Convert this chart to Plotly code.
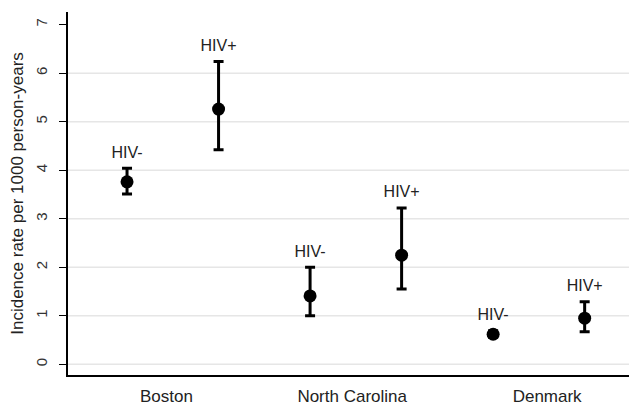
import plotly.graph_objects as go

# Data
groups = ["Boston", "Boston", "North Carolina", "North Carolina", "Denmark", "Denmark"]
status = ["HIV-", "HIV+", "HIV-", "HIV+", "HIV-", "HIV+"]
x_pos = [0, 1, 2, 3, 4, 5]
rate = [3.76, 5.26, 1.41, 2.25, 0.62, 0.95]
ci_low = [3.51, 4.42, 1.00, 1.55, 0.56, 0.67]
ci_high = [4.04, 6.24, 2.00, 3.22, 0.69, 1.29]
cat_labels = ["Boston", "North Carolina", "Denmark"]
cat_pos = [0.43, 2.46, 4.59]
y_ticks = [0, 1, 2, 3, 4, 5, 6, 7]
grid_vals = [0, 1, 2, 3, 4, 5, 6]

FONT = "Liberation Sans, Arial, Helvetica, sans-serif"

fig = go.Figure()

fig.add_trace(go.Scatter(
    x=x_pos, y=rate, mode="markers",
    marker=dict(color="black", size=13),
    error_y=dict(type="data", symmetric=False,
                 array=[h - r for h, r in zip(ci_high, rate)],
                 arrayminus=[r - l for r, l in zip(rate, ci_low)],
                 color="black", thickness=3, width=5),
    showlegend=False, hoverinfo="skip",
))

fig.add_trace(go.Scatter(
    x=x_pos, y=ci_high, mode="markers+text", text=status,
    textposition="top center",
    marker=dict(size=9, opacity=0),
    textfont=dict(family=FONT, size=16, color="#222222"),
    showlegend=False, hoverinfo="skip",
))

for g in grid_vals:
    fig.add_shape(type="line", xref="paper", yref="y", x0=0, x1=1, y0=g, y1=g,
                  line=dict(color="#e6e6e6", width=1.5), layer="below")

fig.update_layout(
    width=629, height=399,
    margin=dict(l=60, r=2, t=4, b=32),
    paper_bgcolor="white", plot_bgcolor="white",
    font=dict(family=FONT, color="#222222"),
)

fig.update_xaxes(
    range=[-0.645, 5.55], tickmode="array", tickvals=cat_pos, ticktext=cat_labels,
    showgrid=False, zeroline=False, showline=True, linecolor="black", linewidth=1.5,
    ticks="", ticklabelstandoff=5,
    tickfont=dict(family=FONT, size=17, color="#222222"),
)

fig.update_yaxes(
    range=[-0.22, 7.26], tickmode="array", tickvals=y_ticks,
    showgrid=False, zeroline=False, showline=True, linecolor="black", linewidth=1.5,
    ticks="outside", ticklen=7, tickwidth=1.2, tickcolor="black",
    ticklabelstandoff=6,
    tickangle=-90, tickfont=dict(family=FONT, size=15, color="#333333"),
    title=dict(text="Incidence rate per 1000 person-years",
               font=dict(family=FONT, size=17, color="#222222"), standoff=10),
)

fig.write_html("out.html")
